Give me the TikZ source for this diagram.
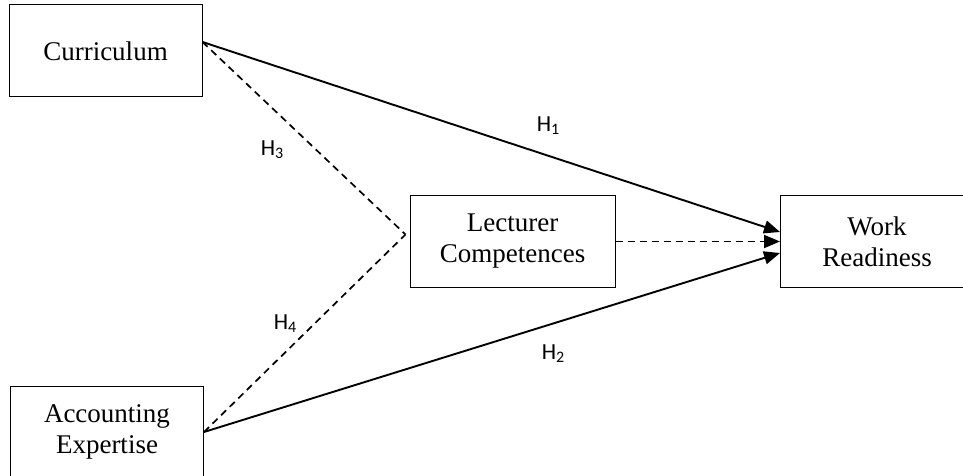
\documentclass[tikz,border=0pt]{standalone}
\usepackage{fontspec}
\setmainfont{Liberation Serif}
\newfontfamily\labfont{Carlito}
\usetikzlibrary{arrows.meta}
\newcommand{\hsub}[1]{H\raisebox{-0.28ex}{\fontsize{16}{16}\selectfont #1}}
\begin{document}
\begin{tikzpicture}[x=1pt,y=-1pt,
  box/.style={draw, line width=1pt, minimum width=193pt, minimum height=92pt, inner sep=0pt,
    align=center, font=\fontsize{27}{31}\selectfont},
  solidarrow/.style={line width=1.9pt, -{Triangle[length=16pt,width=13pt]}},
  dasharrow/.style={line width=1.9pt, dash pattern=on 7pt off 5pt, -{Triangle[length=16pt,width=13pt]}},
  dashline/.style={line width=1.7pt, dash pattern=on 7pt off 5pt},
  hlab/.style={font=\labfont\fontsize{23}{26}\selectfont, inner sep=0pt}]
\useasboundingbox (0,0) rectangle (963,476);
\clip (0,0) rectangle (963,476);
\node[box] (cur) at (105.5,51) {Curriculum};
\node[box] (acc) at (107,432) {Accounting\\Expertise};
\node[box, minimum width=205pt] (lec) at (512.5,241.5) {Lecturer\\Competences};
\node[box] (wr) at (877,241.5) {Work\\Readiness};
\coordinate (meet) at ([xshift=-4pt,yshift=7pt]lec.west);
\draw[solidarrow] ([yshift=9pt]cur.east) -- ([yshift=9.5pt]wr.west);
\draw[solidarrow] (acc.east) -- ([yshift=-11.5pt]wr.west);
\draw[dasharrow] (lec.east) -- (wr.west);
\draw[dashline] ([yshift=9pt]cur.east) -- (meet);
\draw[dashline] (acc.east) -- (meet);
\node[hlab] (h1) at (548,126) {\hsub{1}};
\node[hlab] (h2) at (553,354) {\hsub{2}};
\node[hlab] (h3) at (272,150) {\hsub{3}};
\node[hlab] (h4) at (285,324) {\hsub{4}};
\end{tikzpicture}
\end{document}
